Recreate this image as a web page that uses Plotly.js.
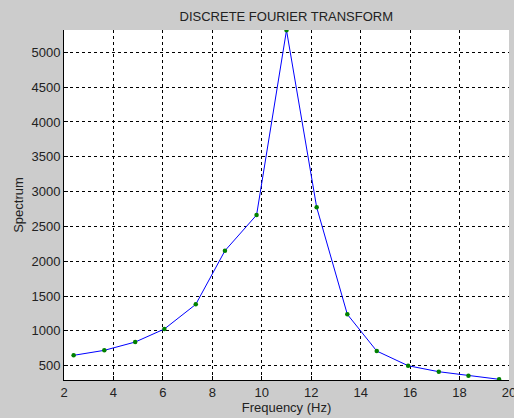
<!DOCTYPE html>
<html>
<head>
<meta charset="utf-8">
<script src="https://cdn.plot.ly/plotly-3.0.1.min.js"></script>
<style>html,body{margin:0;padding:0;background:#cccccc;overflow:hidden;}#chart{width:514px;height:418px;}</style>
</head>
<body>
<div id="chart"></div>
<script>
const frequency = [2.39, 3.63, 4.88, 6.06, 7.33, 8.51, 9.79, 11.0, 12.22, 13.46, 14.65, 15.92, 17.16, 18.36, 19.6];
const spectrum = [649, 721, 840, 1027, 1381, 2151, 2664, 5316, 2775, 1238, 711, 500, 414, 356, 305];
const xTicks = [2, 4, 6, 8, 10, 12, 14, 16, 18, 20];
const yTicks = [500, 1000, 1500, 2000, 2500, 3000, 3500, 4000, 4500, 5000];

const trace = {
  x: frequency, y: spectrum, type: 'scatter', mode: 'lines+markers',
  line: {color: '#0000ff', width: 1},
  marker: {color: '#008000', size: 4.5}
};
const fnt = {family: 'Liberation Sans, Arial, sans-serif', size: 13, color: '#222222'};
const layout = {
  width: 514, height: 418,
  margin: {l: 64, r: 5, t: 30, b: 38},
  paper_bgcolor: '#cccccc', plot_bgcolor: '#ffffff',
  showlegend: false,
  font: fnt,
  title: {text: 'DISCRETE FOURIER TRANSFORM', font: fnt, x: 0.557, xanchor: 'center', y: 0.96, yanchor: 'middle'},
  xaxis: {
    range: [2, 20], tickvals: xTicks, ticktext: xTicks.map(String),
    showgrid: true, gridcolor: '#000000', griddash: '3px,3px', gridwidth: 1,
    showline: true, linecolor: '#000000', linewidth: 1, mirror: false,
    ticks: 'inside', ticklen: 4, tickcolor: '#000000', zeroline: false,
    tickfont: fnt, ticklabeloverflow: 'allow',
    title: {text: 'Frequency (Hz)', font: fnt, standoff: 3}
  },
  yaxis: {
    range: [295, 5320], tickvals: yTicks, ticktext: yTicks.map(String),
    showgrid: true, gridcolor: '#000000', griddash: '3px,3px', gridwidth: 1,
    showline: true, linecolor: '#000000', linewidth: 1, mirror: false,
    ticks: 'inside', ticklen: 4, tickcolor: '#000000', zeroline: false,
    tickfont: fnt,
    title: {text: 'Spectrum', font: fnt, standoff: 4}
  }
};
Plotly.newPlot('chart', [trace], layout, {displayModeBar: false, staticPlot: true});
</script>
</body>
</html>
